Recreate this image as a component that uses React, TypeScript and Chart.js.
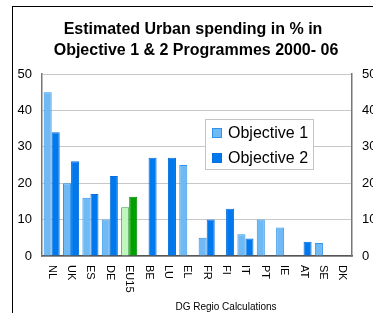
import React, { useEffect, useRef } from "react";
import { Chart, registerables } from "chart.js";

Chart.register(...registerables);

const categories = ["NL", "UK", "ES", "DE", "EU15", "BE", "LU", "EL", "FR", "FI", "IT", "PT", "IE", "AT", "SE", "DK"];
const objective1: (number | null)[] = [45, 20, 16, 10, 13.4, null, null, 25, 5, null, 6, 10, 7.8, null, 3.6, null];
const objective2: (number | null)[] = [34, 26, 17, 22, 16.3, 27, 27, null, 10, 13, 4.8, null, null, 3.9, null, null];
const seriesLabels = ["Objective 1", "Objective 2"];
const titleLines = ["Estimated Urban spending in % in", "Objective 1 & 2 Programmes 2000- 06"];
const sourceNote = "DG Regio Calculations";
const highlightCategory = "EU15";
const yMin = 0;
const yMax = 50;
const yStep = 10;

const FONT = '"Liberation Sans", Arial, sans-serif';
const OBJ1_FILL = "#6FBAF4";
const OBJ1_BORDER = "#2F92EC";
const OBJ2_FILL = "#0079EF";
const OBJ2_BORDER = "#0A6FDA";
const HL1_FILL = "#BFF7BF";
const HL1_BORDER = "#3E9E3E";
const HL2_FILL = "#00A000";
const HL2_BORDER = "#008A00";

const textPlugin = {
  id: "textPlugin",
  afterDraw(chart: any) {
    const ctx = chart.ctx as CanvasRenderingContext2D;
    ctx.save();
    // title
    ctx.fillStyle = "#000";
    ctx.font = `bold 16px ${FONT}`;
    ctx.textAlign = "center";
    ctx.textBaseline = "middle";
    ctx.fillText(titleLines[0], 180, 23);
    ctx.fillText(titleLines[1], 183, 44);

    // x labels rotated clockwise
    const xs = chart.scales.x;
    ctx.font = `11px ${FONT}`;
    categories.forEach((c, i) => {
      const px = xs.getPixelForTick(i);
      ctx.save();
      ctx.translate(px, chart.chartArea.bottom + 9);
      ctx.rotate(Math.PI / 2);
      ctx.textAlign = "left";
      ctx.textBaseline = "middle";
      ctx.fillText(c, 0, 0);
      ctx.restore();
    });

    // source note
    ctx.font = `10px ${FONT}`;
    ctx.textAlign = "center";
    ctx.textBaseline = "middle";
    ctx.fillText(sourceNote, 213, 300);

    // legend
    const lx = 192, ly = 112, lw = 108, lh = 50;
    ctx.fillStyle = "#fff";
    ctx.fillRect(lx, ly, lw, lh);
    ctx.strokeStyle = "#c4c4c4";
    ctx.lineWidth = 1;
    ctx.strokeRect(lx + 0.5, ly + 0.5, lw, lh);
    const rows = [
      { y: ly + 14, fill: OBJ1_FILL, border: OBJ1_BORDER, label: seriesLabels[0] },
      { y: ly + 39, fill: OBJ2_FILL, border: OBJ2_BORDER, label: seriesLabels[1] },
    ];
    ctx.font = `16px ${FONT}`;
    ctx.textAlign = "left";
    ctx.textBaseline = "middle";
    rows.forEach((r) => {
      ctx.fillStyle = r.fill;
      ctx.fillRect(lx + 7, r.y - 5, 10, 10);
      ctx.strokeStyle = r.border;
      ctx.strokeRect(lx + 7.5, r.y - 4.5, 9, 9);
      ctx.fillStyle = "#000";
      ctx.fillText(r.label, lx + 23, r.y + 1);
    });
    ctx.restore();
  },
};

export default function App() {
  const ref = useRef<HTMLCanvasElement>(null);
  useEffect(() => {
    if (!ref.current) return;
    const hl = (i: number) => categories[i] === highlightCategory;
    const chart = new Chart(ref.current, {
      type: "bar",
      data: {
        labels: categories,
        datasets: [
          {
            label: seriesLabels[0],
            data: objective1,
            backgroundColor: categories.map((_, i) => (hl(i) ? HL1_FILL : OBJ1_FILL)),
            borderColor: categories.map((_, i) => (hl(i) ? HL1_BORDER : OBJ1_BORDER)),
            borderWidth: 1,
            categoryPercentage: 0.83,
            barPercentage: 1,
          },
          {
            label: seriesLabels[1],
            data: objective2,
            backgroundColor: categories.map((_, i) => (hl(i) ? HL2_FILL : OBJ2_FILL)),
            borderColor: categories.map((_, i) => (hl(i) ? HL2_BORDER : OBJ2_BORDER)),
            borderWidth: 1,
            categoryPercentage: 0.83,
            barPercentage: 1,
          },
        ],
      },
      options: {
        responsive: false,
        animation: false,
        layout: { padding: { top: 67, left: 0, right: 0, bottom: 0 } },
        plugins: { legend: { display: false }, title: { display: false }, tooltip: { enabled: false } },
        scales: {
          x: {
            grid: { display: false },
            ticks: { display: false },
            border: { display: true, color: "#555", width: 1.5 },
            afterFit: (s: any) => { s.height = 57; },
          },
          y: {
            position: "left",
            min: yMin,
            max: yMax,
            ticks: { stepSize: yStep, color: "#000", font: { family: FONT, size: 13 }, padding: 10 },
            grid: { color: "#c8c8c8", drawTicks: false },
            border: { display: true, color: "#777", width: 1.5 },
            afterFit: (s: any) => { s.width = 29; },
          },
          y2: {
            position: "right",
            min: yMin,
            max: yMax,
            ticks: { stepSize: yStep, color: "#000", font: { family: FONT, size: 13 }, padding: 10 },
            grid: { display: false, drawTicks: false },
            border: { display: true, color: "#777", width: 1.5 },
            afterFit: (s: any) => { s.width = 21; },
          },
        },
      },
      plugins: [textPlugin],
    });
    return () => chart.destroy();
  }, []);

  return (
    <div
      style={{
        position: "absolute",
        left: 12,
        top: 6,
        width: 360,
        height: 306,
        borderLeft: "1px solid #000",
        borderTop: "1px solid #000",
        background: "#fff",
        overflow: "hidden",
      }}
    >
      <canvas ref={ref} width={360} height={306} style={{ display: "block", width: 360, height: 306 }} />
    </div>
  );
}
